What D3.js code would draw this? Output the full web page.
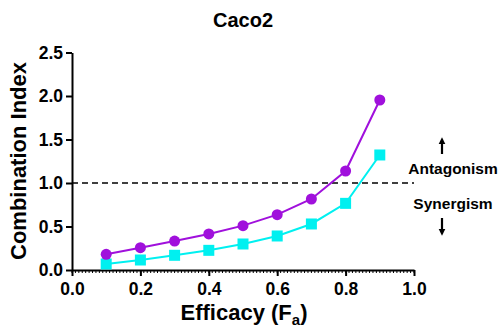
<!DOCTYPE html>
<meta charset="utf-8">
<head>
<title>Caco2</title>
<style>
body { margin: 0; background: #FFF; }
text { font-family: 'Liberation Sans', Arial, sans-serif; font-weight: bold; }
.axis path, .axis line { stroke: #000; stroke-width: 2px; }
.minor line { stroke: #000; stroke-width: 1px; }
</style>
</head>
<body>
<script src="https://cdn.jsdelivr.net/npm/d3@7"></script>
<script>
var efficacy = [0.1, 0.2, 0.3, 0.4, 0.5, 0.6, 0.7, 0.8, 0.9];
var purpleCI = [0.18, 0.256, 0.333, 0.414, 0.51, 0.636, 0.816, 1.138, 1.954];
var cyanCI = [0.069, 0.115, 0.169, 0.226, 0.299, 0.391, 0.529, 0.766, 1.322];
var xTicks = [0, 0.2, 0.4, 0.6, 0.8, 1.0];
var yTicks = [0, 0.5, 1.0, 1.5, 2.0, 2.5];

var width = 500, height = 333;
var svg = d3.select("body").append("svg").attr("width", width).attr("height", height);

var x = d3.scaleLinear().domain([0, 1]).range([72, 414]);
var y = d3.scaleLinear().domain([0, 2.5]).range([270, 52.5]);

// minor ticks on x axis
svg.append("g").attr("class", "minor")
   .attr("transform", "translate(0,270)")
   .selectAll("line").data(d3.range(0, 1.0001, 0.01)).enter().append("line")
   .attr("x1", function(d){return x(d);}).attr("x2", function(d){return x(d);})
   .attr("y1", 0).attr("y2", 3);

var xAxis = svg.append("g").attr("class", "axis")
   .attr("transform", "translate(0,270)")
   .call(d3.axisBottom(x).tickValues(xTicks).tickFormat(d3.format(".1f")).tickSizeInner(6).tickSizeOuter(0).tickPadding(7));
xAxis.selectAll("text").attr("font-size", 17.5).attr("fill", "#000");

var yAxis = svg.append("g").attr("class", "axis")
   .attr("transform", "translate(72,0)")
   .call(d3.axisLeft(y).tickValues(yTicks).tickFormat(d3.format(".1f")).tickSizeInner(6).tickSizeOuter(0).tickPadding(3));
yAxis.selectAll("text").attr("font-size", 17.5).attr("fill", "#000");

// reference line
svg.append("line")
   .attr("x1", x(0)).attr("x2", x(1)).attr("y1", y(1)).attr("y2", y(1))
   .attr("stroke", "#000").attr("stroke-width", 1.6).attr("stroke-dasharray", "6,4");

var line = d3.line().x(function(d){return x(d[0]);}).y(function(d){return y(d[1]);});

var purple = "#a010dc", cyan = "#00f0f0";
var pData = d3.zip(efficacy, purpleCI), cData = d3.zip(efficacy, cyanCI);

svg.append("path").datum(cData).attr("d", line)
   .attr("fill", "none").attr("stroke", cyan).attr("stroke-width", 2);
svg.append("g").selectAll("rect").data(cData).enter().append("rect")
   .attr("x", function(d){return x(d[0]) - 5.5;}).attr("y", function(d){return y(d[1]) - 5.5;})
   .attr("width", 11).attr("height", 11).attr("fill", cyan);

svg.append("path").datum(pData).attr("d", line)
   .attr("fill", "none").attr("stroke", purple).attr("stroke-width", 2);
svg.append("g").selectAll("circle").data(pData).enter().append("circle")
   .attr("cx", function(d){return x(d[0]);}).attr("cy", function(d){return y(d[1]);})
   .attr("r", 5.5).attr("fill", purple);

// title and labels
svg.append("text").attr("x", 243).attr("y", 27).attr("text-anchor", "middle")
   .attr("font-size", 20).text("Caco2");

svg.append("text").attr("transform", "translate(26,161) rotate(-90)")
   .attr("text-anchor", "middle").attr("font-size", 22).text("Combination Index");

var xl = svg.append("text").attr("x", 244).attr("y", 320).attr("text-anchor", "middle")
   .attr("font-size", 22);
xl.append("tspan").text("Efficacy (F");
xl.append("tspan").attr("font-size", 15).attr("dy", 5).text("a");
xl.append("tspan").attr("dy", -5).text(")");

// annotations
svg.append("text").attr("x", 453).attr("y", 174).attr("text-anchor", "middle")
   .attr("font-size", 15.5).text("Antagonism");
svg.append("text").attr("x", 453).attr("y", 209).attr("text-anchor", "middle")
   .attr("font-size", 15.5).text("Synergism");

var defs = svg.append("defs");
defs.append("marker").attr("id", "ah").attr("viewBox", "0 0 10 10")
   .attr("refX", 2).attr("refY", 5).attr("markerWidth", 3.2).attr("markerHeight", 3.2)
   .attr("orient", "auto")
   .append("path").attr("d", "M0,0 L10,5 L0,10 z").attr("fill", "#000");
svg.append("line").attr("x1", 442).attr("x2", 442).attr("y1", 154).attr("y2", 143)
   .attr("stroke", "#000").attr("stroke-width", 2.2).attr("marker-end", "url(#ah)");
svg.append("line").attr("x1", 442).attr("x2", 442).attr("y1", 218).attr("y2", 230)
   .attr("stroke", "#000").attr("stroke-width", 2.2).attr("marker-end", "url(#ah)");
</script>
</body>
